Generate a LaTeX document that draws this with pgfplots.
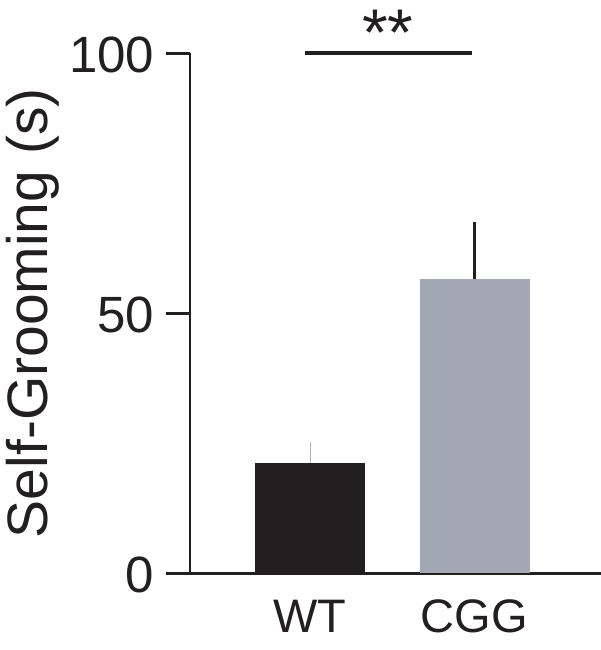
\documentclass[border=0pt]{standalone}
\usepackage{pgfplots}
\pgfplotsset{compat=1.18}
\usepackage{fontspec}
\setmainfont{Liberation Sans}
\definecolor{barblack}{HTML}{231F20}
\definecolor{bargray}{HTML}{A2A8B1}
\begin{document}
\begin{tikzpicture}
\path[use as bounding box] (-190pt,-76.7pt) rectangle (411pt,573.3pt);
\begin{axis}[
 at={(0pt,0pt)}, anchor=south west,
 scale only axis, width=411pt, height=520pt,
 xmin=0.2705, xmax=2.769, ymin=0, ymax=100,
 axis lines=left, axis line style={-, line width=2.7pt, color=barblack},
 clip=false,
 xtick={1,2}, xticklabels={WT,CGG},
 ytick={0,50,100},
 tick align=outside, major tick length=23.5pt,
 tick style={line width=2.7pt, color=barblack},
 xtick style={draw=none},
 /pgf/number format/assume math mode=true,
 yticklabel style={font=\fontsize{51}{51}\selectfont, inner sep=0pt, text=barblack, xshift=-12pt, yshift=-1.5pt},
 xticklabel style={font=\fontsize{47}{47}\selectfont, inner sep=0pt, anchor=north, text=barblack, yshift=-3pt},
 ylabel={Self-Grooming (s)},
 ylabel style={font=\fontsize{57}{57}\selectfont, at={(axis description cs:-0.4480,0.5)}, anchor=north, inner sep=0pt, text=barblack},
 bar width=110pt, bar shift=0pt,
]
\addplot[ybar, fill=barblack, draw=none,
  error bars/.cd, y dir=plus, y explicit, error mark=none,
  error bar style={draw=gray!60, line width=1pt}]
  coordinates {(1,21.3) +- (0,3.9)};
\addplot[ybar, fill=bargray, draw=none,
  error bars/.cd, y dir=plus, y explicit, error mark=none,
  error bar style={draw=barblack, line width=2.6pt}]
  coordinates {(2,56.65) +- (0,11.0)};
\addplot[line width=4pt, color=barblack] coordinates {(0.970,100) (1.985,100)};
\node[anchor=north, inner sep=0pt, text=barblack] at (axis cs:1.474,108.3) {\fontsize{66}{66}\selectfont **};
\end{axis}
\end{tikzpicture}
\end{document}
